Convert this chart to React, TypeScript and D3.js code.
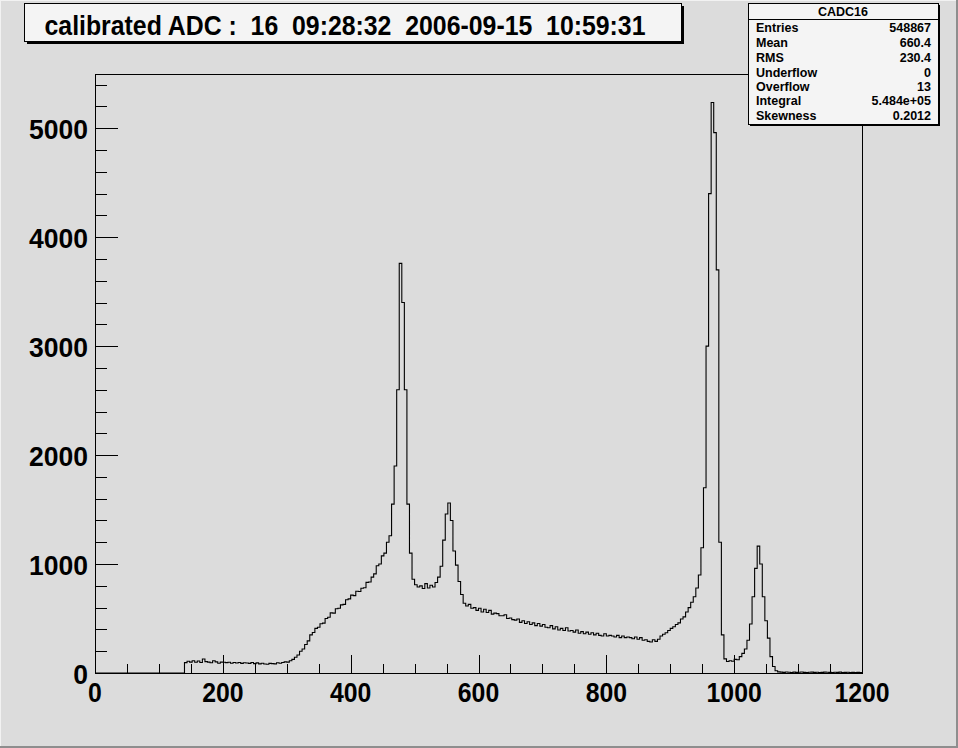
import React from "react";
import * as d3 from "d3";

// ---- data ----
const titleText = "calibrated ADC :  16  09:28:32  2006-09-15  10:59:31";
const histName = "CADC16";
const statLabels = ["Entries", "Mean", "RMS", "Underflow", "Overflow", "Integral", "Skewness"];
const statValues = ["548867", "660.4", "230.4", "0", "13", "5.484e+05", "0.2012"];

const xTickLabels = [0, 200, 400, 600, 800, 1000, 1200];
const yTickLabels = [0, 1000, 2000, 3000, 4000, 5000];

const binStart = 140;
const binWidth = 4;
const counts = [
  // 140 - 296
  95, 108, 100, 112, 98, 110, 96, 128, 104, 100, 94, 112, 102, 90, 100, 98, 95, 99, 90, 96,
  92, 97, 88, 94, 92, 88, 96, 86, 93, 84, 90, 82, 80, 88, 86, 84, 94, 90, 97, 102,
  // 300 - 496
  100, 112, 125, 145, 165, 200, 220, 262, 295, 350, 372, 410, 420, 452, 458, 500, 512, 552, 550, 590,
  595, 625, 630, 672, 680, 715, 710, 750, 748, 778, 782, 832, 835, 880, 910, 985, 1000, 1075, 1100, 1200,
  1260, 1550, 1900, 2600, 3760, 3400, 2600, 1550, 1100, 860,
  // 500 - 576
  810, 790, 800, 775, 820, 780, 805, 790, 830, 880, 980, 1220, 1460, 1560, 1400, 1120, 990, 840, 720, 640,
  // 580 - 876
  615, 630, 595, 600, 575, 595, 560, 585, 555, 575, 540, 550, 545, 525, 525, 535, 500, 505, 490, 485,
  495, 465, 480, 455, 470, 445, 460, 435, 455, 430, 445, 420, 415, 435, 405, 425, 395, 410, 390, 415,
  385, 390, 375, 395, 365, 380, 360, 375, 355, 370, 350, 365, 345, 340, 360, 340, 345, 340, 330, 345,
  325, 340, 325, 330, 325, 315, 330, 310, 325, 300, 305, 290, 285, 305, 290,
  // 880 - 1068
  310, 340, 355, 370, 390, 410, 425, 445, 460, 495, 515, 560, 600, 650, 700, 780, 900, 1150, 1700, 3000,
  4400, 5236, 4960, 3700, 1200, 350, 130, 105, 112, 108, 125, 122, 150, 180, 220, 300, 450, 700, 960, 1165,
  1000, 700, 480, 320, 150, 60, 20, 10,
  // 1072 - 1196
  8, 6, 9, 7, 5, 8, 6, 7, 9, 6, 5, 7, 8, 6, 7, 5, 6, 8, 7, 6, 5, 7, 6, 8, 5, 6, 7, 5, 6, 4, 6, 5,
];

// ---- layout ----
const W = 958;
const H = 748;
const frame = { left: 95, right: 862, top: 74, bottom: 673 };
const yMax = 5498;
const bg = "#dcdcdc";
const font = "'Liberation Sans', Arial, Helvetica, sans-serif";

export default function App() {
  const x = d3.scaleLinear().domain([0, 1200]).range([frame.left, frame.right]);
  const y = d3.scaleLinear().domain([0, yMax]).range([frame.bottom, frame.top]);

  const pts: [number, number][] = [[0, 0]];
  counts.forEach((c, i) => pts.push([binStart + i * binWidth, c]));
  pts.push([binStart + counts.length * binWidth, counts[counts.length - 1]]);
  pts.push([1200, 0]);
  const line = d3
    .line<[number, number]>()
    .x((d) => x(d[0]))
    .y((d) => y(d[1]))
    .curve(d3.curveStepAfter);
  const path = line(pts) || "";

  const xMinor = d3.range(0, 1201, 50);
  const yMinor = d3.range(0, yMax, 200);

  const xMajorLen = 18;
  const xMinorLen = 9;
  const yMajorLen = 23;
  const yMinorLen = 12;

  const sb = { x: 748, y: 3, w: 190, h: 121 };
  const rowBaselines = [31.5, 46.5, 61.5, 76.5, 91, 104.5, 120];

  return (
    <svg
      width={W}
      height={H}
      style={{ position: "absolute", left: 0, top: 0, display: "block" }}
      xmlns="http://www.w3.org/2000/svg"
    >
      <rect x={0} y={0} width={W} height={H} fill={bg} />
      <rect x={0} y={0} width={W} height={1} fill="#f2f2f2" />
      <rect x={0} y={0} width={1} height={H} fill="#f2f2f2" />
      <rect x={W - 2} y={0} width={2} height={H} fill="#8e8e8e" />
      <rect x={0} y={H - 2} width={W} height={2} fill="#8e8e8e" />

      {/* frame */}
      <rect
        x={frame.left}
        y={frame.top}
        width={frame.right - frame.left}
        height={frame.bottom - frame.top}
        fill={bg}
        stroke="#000"
        strokeWidth={1}
        shapeRendering="crispEdges"
      />

      {/* histogram */}
      <path d={path} fill="none" stroke="#000" strokeWidth={1.1} />

      {/* ticks */}
      <g stroke="#000" strokeWidth={1} shapeRendering="crispEdges">
        {xMinor.map((v) => {
          const major = v % 200 === 0;
          const px = Math.round(x(v)) + 0.5;
          return (
            <line
              key={"xt" + v}
              x1={px}
              x2={px}
              y1={frame.bottom}
              y2={frame.bottom - (major ? xMajorLen : xMinorLen)}
            />
          );
        })}
        {yMinor.map((v) => {
          const major = v % 1000 === 0;
          const py = Math.round(y(v)) + 0.5;
          return (
            <line
              key={"yt" + v}
              x1={frame.left}
              x2={frame.left + (major ? yMajorLen : yMinorLen)}
              y1={py}
              y2={py}
            />
          );
        })}
        <line x1={frame.left} x2={frame.right} y1={frame.bottom + 0.5} y2={frame.bottom + 0.5} />
        <line x1={frame.left + 0.5} x2={frame.left + 0.5} y1={frame.top} y2={frame.bottom} />
      </g>

      {/* axis labels */}
      <g fontFamily={font} fontWeight="bold" fontSize={28} fill="#000">
        {xTickLabels.map((v) => {
          const s = String(v);
          return (
            <text
              key={"xl" + v}
              x={x(v)}
              y={702}
              textAnchor="middle"
              textLength={s.length * 13.8}
              lengthAdjust="spacingAndGlyphs"
            >
              {s}
            </text>
          );
        })}
        {yTickLabels.map((v) => {
          const s = String(v);
          return (
            <text
              key={"yl" + v}
              x={88}
              y={y(v) + 10.5}
              textAnchor="end"
              textLength={s.length * 14.75}
              lengthAdjust="spacingAndGlyphs"
            >
              {s}
            </text>
          );
        })}
      </g>

      {/* title box */}
      <rect x={27} y={6} width={657} height={38} fill="#000" />
      <rect x={24} y={3} width={657} height={38} fill="#f4f4f4" stroke="#000" strokeWidth={1} shapeRendering="crispEdges" />
      <text
        x={345}
        y={35}
        fontFamily={font}
        fontWeight="bold"
        fontSize={27}
        textAnchor="middle"
        textLength={601}
        lengthAdjust="spacingAndGlyphs"
        style={{ whiteSpace: "pre" }}
        xmlSpace="preserve"
      >
        {titleText}
      </text>

      {/* stats box */}
      <rect x={sb.x + 2} y={sb.y + 2} width={sb.w} height={sb.h} fill="#000" />
      <rect x={sb.x} y={sb.y} width={sb.w} height={sb.h} fill="#f4f4f4" stroke="#000" strokeWidth={1} shapeRendering="crispEdges" />
      <line x1={sb.x} x2={sb.x + sb.w} y1={19.5} y2={19.5} stroke="#000" strokeWidth={1} shapeRendering="crispEdges" />
      <g fontFamily={font} fontWeight="bold" fontSize={12.5} fill="#000">
        <text x={sb.x + sb.w / 2} y={16} textAnchor="middle">
          {histName}
        </text>
        {statLabels.map((l, i) => (
          <text key={"sl" + i} x={sb.x + 8} y={rowBaselines[i]}>
            {l}
          </text>
        ))}
        {statValues.map((v, i) => (
          <text key={"sv" + i} x={sb.x + sb.w - 7} y={rowBaselines[i]} textAnchor="end">
            {v}
          </text>
        ))}
      </g>
    </svg>
  );
}
